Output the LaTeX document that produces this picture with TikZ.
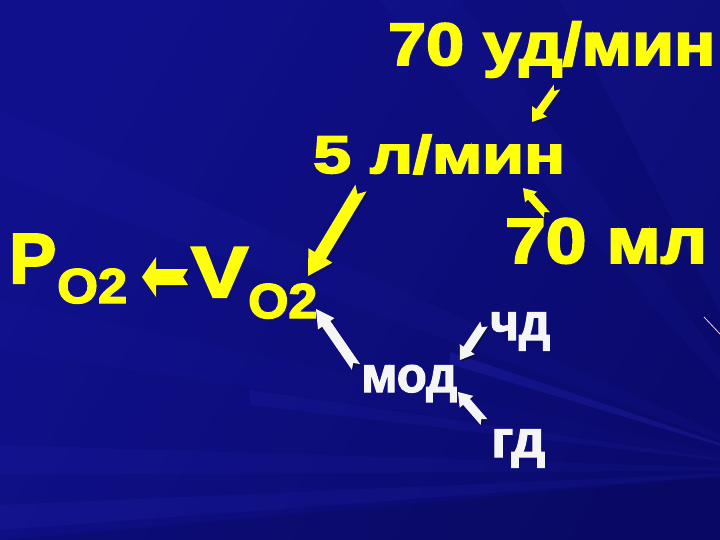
\documentclass[tikz,border=0pt]{standalone}
\usepackage{fontspec}
\setmainfont{Liberation Sans}
\newfontfamily\heavyfont{Liberation Sans}[BoldFeatures={FakeBold=3}]
\newfontfamily\whitefont{Liberation Sans}[BoldFeatures={FakeBold=2.5}]
\usepackage{graphicx}
\usetikzlibrary{calc}
\definecolor{bgblue}{RGB}{16,16,140}
\definecolor{bgdark}{RGB}{10,10,110}
\definecolor{raycol}{RGB}{60,60,235}
\definecolor{yel}{RGB}{255,255,10}
\definecolor{shd}{RGB}{12,12,70}
\definecolor{wht}{RGB}{245,245,245}
% #1 colour, #2 tail, #3 tip, #4 shaft half width, #5 head half width, #6 head length, #7 notch depth
\newcommand\blockarr[7]{%
  \path ($(#3)!#6!(#2)$) coordinate (hb);
  \fill[shd, transform canvas={shift={(1.5pt,-1.5pt)}}] (#3) -- ($(hb)!#5!90:(#3)$) -- ($(hb)!#4!90:(#3)$) -- ($(#2)!#4!90:(#3)$) -- ($(#2)!#7!(#3)$) -- ($(#2)!#4!-90:(#3)$) -- ($(hb)!#4!-90:(#3)$) -- ($(hb)!#5!-90:(#3)$) -- cycle;
  \fill[#1] (#3) -- ($(hb)!#5!90:(#3)$) -- ($(hb)!#4!90:(#3)$) -- ($(#2)!#4!90:(#3)$) -- ($(#2)!#7!(#3)$) -- ($(#2)!#4!-90:(#3)$) -- ($(hb)!#4!-90:(#3)$) -- ($(hb)!#5!-90:(#3)$) -- cycle;
}
\tikzset{
  ytxt/.style={text=yel, inner sep=0pt, anchor=base west, font=\heavyfont\bfseries},
  wtxt/.style={text=wht, inner sep=0pt, anchor=base west, font=\whitefont\bfseries},
}
\begin{document}
\begin{tikzpicture}[x=1pt,y=-1pt]
\useasboundingbox (0,0) rectangle (720,540);
% background
\shade[left color=bgdark, right color=bgblue, shading angle=-120] (0,0) rectangle (720,540);
\begin{scope}
\clip (0,0) rectangle (720,540);
\fill[raycol, opacity=0.05] (800,470) -- (0,110) -- (0,175) -- cycle;
\fill[raycol, opacity=0.04] (800,470) -- (0,300) -- (0,350) -- cycle;
\fill[raycol, opacity=0.07] (800,470) -- (0,445) -- (0,475) -- cycle;
\fill[raycol, opacity=0.09] (800,470) -- (0,505) -- (0,530) -- cycle;
\fill[raycol, opacity=0.18] (800,470) -- (450,352) -- (450,364) -- cycle;
\fill[raycol, opacity=0.10] (800,470) -- (250,390) -- (250,405) -- cycle;
\fill[raycol, opacity=0.07] (800,470) -- (560,0) -- (720,0) -- cycle;
\fill[raycol, opacity=0.05] (800,470) -- (380,0) -- (460,0) -- cycle;
\fill[black, opacity=0.08] (800,470) -- (0,540) -- (720,540) -- cycle;
\draw[pink!70!white, line width=0.8pt] (704,317) -- (720,334);
\end{scope}
% texts
\node[ytxt] (ud) at (388,65) {\fontsize{60}{60}\selectfont\resizebox{327pt}{\height}{70 уд/мин}};
\node[ytxt] (lmin) at (313,173) {\fontsize{53}{53}\selectfont\resizebox{252pt}{\height}{5 л/мин}};
\node[ytxt] (ml) at (505,263) {\fontsize{64}{64}\selectfont\resizebox{202pt}{\height}{70 мл}};
\node[ytxt] (P) at (9,283) {\fontsize{71}{71}\selectfont\resizebox{47pt}{\height}{P}};
\node[ytxt] (Psub) at (57,303) {\fontsize{49}{49}\selectfont\resizebox{70pt}{\height}{O2}};
\node[ytxt] (V) at (191,297) {\fontsize{72}{72}\selectfont\resizebox{57pt}{\height}{V}};
\node[ytxt] (Vsub) at (248,318) {\fontsize{49}{49}\selectfont\resizebox{69pt}{\height}{O2}};
\node[wtxt] (mod) at (361,392) {\fontsize{50}{50}\selectfont\resizebox{96pt}{\height}{мод}};
\node[wtxt] (chd) at (490,340) {\fontsize{52}{52}\selectfont\resizebox{60pt}{\height}{чд}};
\node[wtxt] (gd) at (491,457) {\fontsize{52}{52}\selectfont\resizebox{54pt}{\height}{гд}};
% arrow end points
\coordinate (a1t) at (557,87);  \coordinate (a1h) at (532,122);
\coordinate (a2t) at (361,188); \coordinate (a2h) at (308,276);
\coordinate (a3t) at (547,215); \coordinate (a3h) at (523,188);
\coordinate (a4t) at (188,277); \coordinate (a4h) at (142,277);
\coordinate (a5t) at (356,367); \coordinate (a5h) at (316,309);
\coordinate (a6t) at (484,324); \coordinate (a6h) at (460,360);
\coordinate (a7t) at (484,422); \coordinate (a7h) at (458,392);
\blockarr{yel}{a1t}{a1h}{4pt}{9pt}{13pt}{5pt}
\blockarr{yel}{a2t}{a2h}{6.5pt}{14pt}{24pt}{7pt}
\blockarr{yel}{a3t}{a3h}{4pt}{8pt}{12pt}{4pt}
\blockarr{yel}{a4t}{a4h}{8pt}{20pt}{14pt}{5pt}
\blockarr{wht}{a5t}{a5h}{5pt}{10pt}{18pt}{5pt}
\blockarr{wht}{a6t}{a6h}{4.5pt}{9pt}{13pt}{4pt}
\blockarr{wht}{a7t}{a7h}{4.5pt}{9pt}{13pt}{4pt}
\end{tikzpicture}
\end{document}
